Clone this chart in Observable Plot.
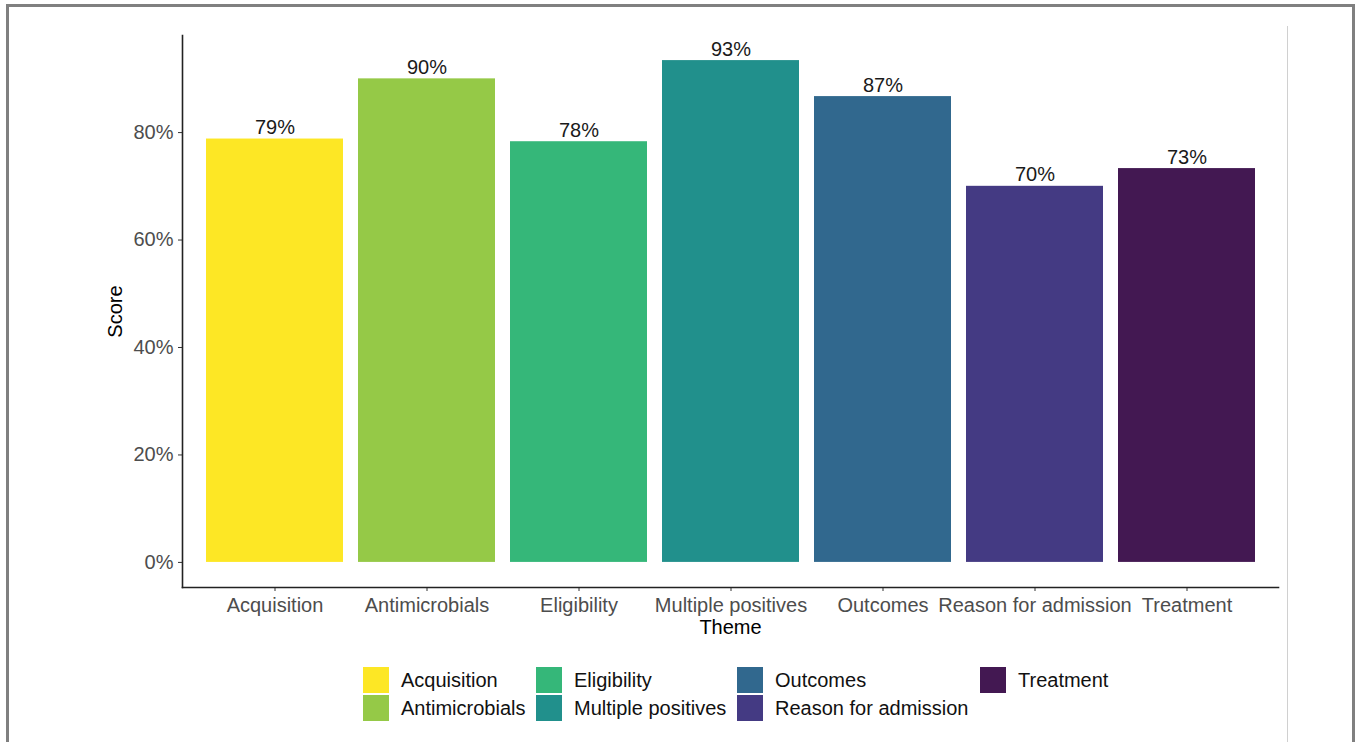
<!DOCTYPE html>
<html>
<head>
<meta charset="utf-8">
<script src="https://cdn.jsdelivr.net/npm/d3@7"></script>
<script src="https://cdn.jsdelivr.net/npm/@observablehq/plot@0.6"></script>
<style>
  html, body { margin: 0; padding: 0; background: #fff; }
  #wrap { position: relative; width: 1357px; height: 742px; overflow: hidden; font-family: "Liberation Sans", Arial, sans-serif; }
  #chart { position: absolute; left: 0; top: 0; }
  #frame { position: absolute; left: 6px; top: 4px; width: 1343px; height: 760px; border-left: 3px solid #808080; border-top: 3px solid #808080; border-right: 3px solid #808080; box-sizing: content-box; }
  #vline { position: absolute; left: 1287px; top: 26px; width: 1px; height: 716px; background: #d0d0d0; }
  .leg { position: absolute; display: flex; align-items: center; font-size: 20px; color: #111; white-space: nowrap; }
  .sw { width: 26px; height: 26px; margin-right: 12px; }
  g[aria-label="y-axis tick"] path, g[aria-label="x-axis tick"] path { stroke: #333; }
</style>
</head>
<body>
<div id="wrap">
  <div id="frame"></div>
  <div id="vline"></div>
  <div id="chart"></div>
  <div id="legend"></div>
</div>
<script>
const themes = ["Acquisition", "Antimicrobials", "Eligibility", "Multiple positives", "Outcomes", "Reason for admission", "Treatment"];
const scores = [78.8, 90.0, 78.3, 93.4, 86.7, 70.0, 73.3];
const colors = ["#FDE725", "#95C947", "#35B779", "#21908C", "#31688E", "#443A83", "#431852"];
const yTicks = [0, 20, 40, 60, 80];
const legendCols = [[0, 1], [2, 3], [4, 5], [6]];
const legendColX = [363, 536, 737, 980];
const legendRowY = [667, 695];

const data = themes.map((t, i) => ({theme: t, score: scores[i]}));
const maxV = d3.max(scores);

const chart = Plot.plot({
  width: 1357,
  height: 640,
  marginLeft: 182,
  marginRight: 79,
  marginTop: 35,
  marginBottom: 53,
  style: {fontFamily: "'Liberation Sans', Arial, sans-serif", fontSize: "20px", background: "transparent"},
  x: {domain: themes, paddingInner: 0.1, paddingOuter: 0.15, align: 0.5, label: null},
  y: {domain: [-0.05 * maxV, 1.05 * maxV], label: null},
  color: {domain: themes, range: colors},
  marks: [
    Plot.barY(data, {x: "theme", y: "score", fill: "theme"}),
    Plot.text(data, {x: "theme", y: "score", text: d => Math.round(d.score) + "%", lineAnchor: "bottom", dy: -5, fontSize: 20, fill: "#1a1a1a"}),
    Plot.axisY({ticks: yTicks, tickSize: 4, tickPadding: 5, tickFormat: d => d + "%", color: "#4d4d4d", label: null, fontSize: 20}),
    Plot.axisX({tickSize: 4, tickPadding: 6, color: "#4d4d4d", label: null, fontSize: 20}),
    Plot.frame({anchor: "left", stroke: "#222", strokeWidth: 1.6}),
    Plot.frame({anchor: "bottom", stroke: "#222", strokeWidth: 1.6}),
    Plot.text(["Score"], {frameAnchor: "left", dx: -67, rotate: -90, textAnchor: "middle", lineAnchor: "middle", fontSize: 20, fill: "#000"}),
    Plot.text(["Theme"], {frameAnchor: "bottom", dy: 40, textAnchor: "middle", lineAnchor: "middle", fontSize: 20, fill: "#000"})
  ]
});
document.getElementById("chart").appendChild(chart);

const legend = document.getElementById("legend");
legendCols.forEach((col, ci) => {
  col.forEach((idx, ri) => {
    const item = document.createElement("div");
    item.className = "leg";
    item.style.left = legendColX[ci] + "px";
    item.style.top = legendRowY[ri] + "px";
    const sw = document.createElement("div");
    sw.className = "sw";
    sw.style.background = colors[idx];
    const lab = document.createElement("span");
    lab.textContent = themes[idx];
    item.appendChild(sw);
    item.appendChild(lab);
    legend.appendChild(item);
  });
});
</script>
</body>
</html>
